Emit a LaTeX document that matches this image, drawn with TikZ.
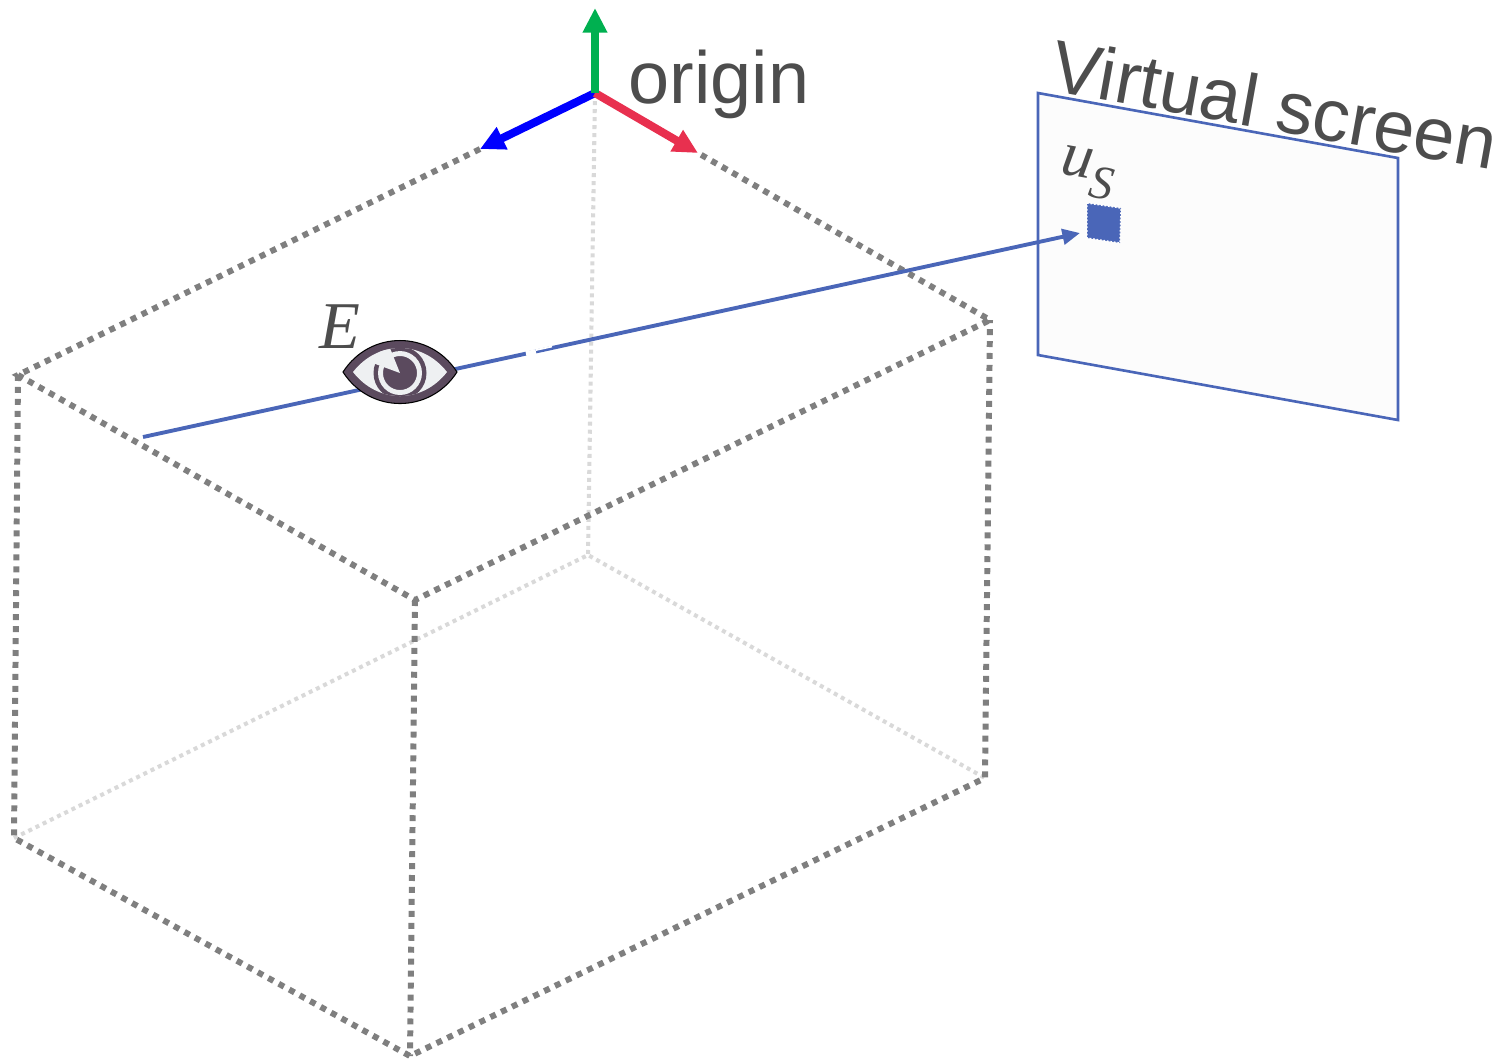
\documentclass[tikz,border=0pt]{standalone}
\usepackage{fontspec}
\setmainfont{Liberation Sans}
\newfontfamily\symbolfont{Liberation Serif}
\usetikzlibrary{arrows.meta}
\definecolor{rayblue}{HTML}{4A66B8}
\definecolor{boxgray}{HTML}{7F7F7F}
\definecolor{hiddengray}{HTML}{D9D9D9}
\definecolor{textgray}{HTML}{4D4D4D}
\definecolor{eyedark}{HTML}{5B4A5E}
\definecolor{eyelight}{HTML}{EEF0F2}
\definecolor{axisred}{HTML}{E8304F}
\definecolor{axisgreen}{HTML}{00B050}
\tikzset{
	boxedge/.style={boxgray,line width=1.7pt,dash pattern=on 1.7pt off 1.7pt},
	hiddenedge/.style={hiddengray,line width=1.15pt,dash pattern=on 1.14pt off 1.14pt},
	axisarrow/.style={line width=2.3pt,-{Triangle[length=7pt,width=6.6pt]}},
	label/.style={textgray,inner sep=0pt},
}
\begin{document}
\begin{tikzpicture}[x=0.01cm,y=-0.01cm]
	\useasboundingbox (0,0) rectangle (1506,1062);

	%corners
	\coordinate (back top) at (595,93);
	\coordinate (left top) at (18,375);
	\coordinate (front top) at (415,600);
	\coordinate (right top) at (990,320);
	\coordinate (back bottom) at (588,555);
	\coordinate (left bottom) at (14,838);
	\coordinate (front bottom) at (410,1056);
	\coordinate (right bottom) at (985,778);

	%axis ends
	\coordinate (x tip) at (698,153);
	\coordinate (y tip) at (480,149);
	\coordinate (z tip) at (595,8);

	%hidden edges
	\draw[hiddenedge] (back top) -- (back bottom);
	\draw[hiddenedge] (left bottom) -- (back bottom) -- (right bottom);

	%visible edges
	\draw[boxedge] (y tip) -- (left top) -- (front top) -- (right top) -- (x tip);
	\draw[boxedge] (left top) -- (left bottom) -- (front bottom) -- (right bottom) -- (right top);
	\draw[boxedge] (front top) -- (front bottom);

	%axes
	\draw[axisarrow,blue] (back top) -- (y tip);
	\draw[axisarrow,axisred] (back top) -- (x tip);
	\draw[axisarrow,axisgreen] (back top) -- (z tip);
	\node[label,anchor=base west,font=\fontsize{21pt}{24pt}\selectfont] (origin) at (628,103) {origin};

	%screen
	\coordinate (screen a) at (1038,93);
	\coordinate (screen b) at (1398,158);
	\coordinate (screen c) at (1398,420);
	\coordinate (screen d) at (1038,355);
	\draw[rayblue,line width=0.75pt,fill=black!1] (screen a) -- (screen b) -- (screen c) -- (screen d) -- cycle;
	\node[label,anchor=base west,rotate=-10.2,font=\fontsize{21pt}{24pt}\selectfont] (screen title) at (1048,90) {Virtual screen};

	%pixel
	\coordinate (pixel a) at (1087,203);
	\coordinate (pixel b) at (1121,208);
	\coordinate (pixel c) at (1120,243);
	\coordinate (pixel d) at (1087,238);
	\filldraw[rayblue,draw=white,line width=0.4pt,dash pattern=on 0.5pt off 0.5pt] (pixel a) -- (pixel b) -- (pixel c) -- (pixel d) -- cycle;
	\node[label,rotate=-10,font=\symbolfont\itshape\fontsize{18pt}{20pt}\selectfont] (pixel label) at (1088,173) {u\raisebox{-0.28em}{\fontsize{13.5pt}{15pt}\selectfont S}};

	%ray
	\coordinate (ray start) at (143,437);
	\coordinate (ray tip) at (1080,233);
	\draw[rayblue,line width=1.1pt,-{Triangle[length=5pt,width=4.4pt]}] (ray start) -- (ray tip);
	\draw[white,line width=1.6pt] (526,354) -- (536,352); %gap
	\draw[white,line width=0.5pt] (536,350) -- (552,346.5);

	%eye
	\draw[black,line width=0.3pt,fill=eyedark] (343,372) .. controls (370,330) and (430,330) .. (457,372) .. controls (430,414) and (370,414) .. (343,372) -- cycle;
	\begin{scope}
		\clip (353,372) .. controls (378,340) and (422,340) .. (447,372) .. controls (422,404) and (378,404) .. (353,372) -- cycle;
		\fill[eyelight] (343,330) rectangle (457,414);
		\fill[eyedark] (400,373) circle (26.5);
		\draw[eyelight,line width=1.4pt] (400,373) circle (19.5);
		\fill[eyelight] (400,373) -- (370,362) -- (388,343) -- cycle; %pupil wedge
	\end{scope}
	\node[label,font=\symbolfont\itshape\fontsize{19pt}{20pt}\selectfont] (eye label) at (340,327) {E};
\end{tikzpicture}
\end{document}
